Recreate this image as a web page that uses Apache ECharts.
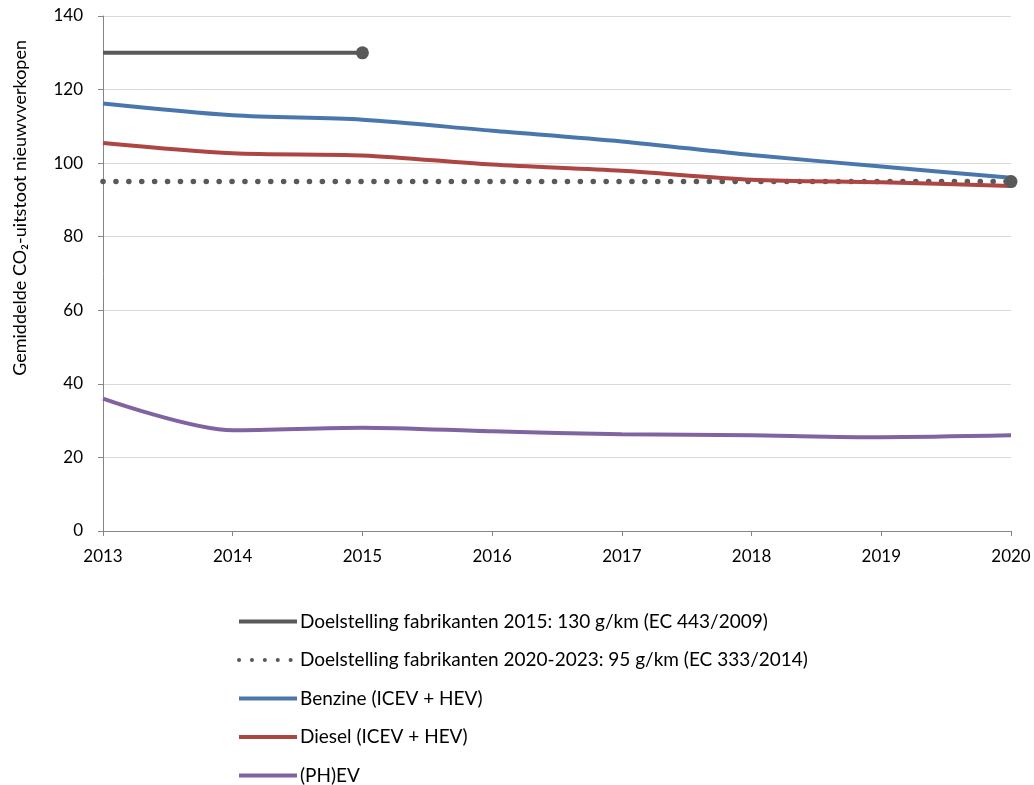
<!DOCTYPE html>
<html><head><meta charset="utf-8">
<script src="https://cdn.jsdelivr.net/npm/echarts@6/dist/echarts.min.js"></script>
<style>html,body{margin:0;padding:0;background:#fff}#c{width:1034px;height:785px}</style>
</head><body><div id="c"></div>
<script>
const years = [2013, 2014, 2015, 2016, 2017, 2018, 2019, 2020];
const benzine = [116.2, 113.0, 111.8, 108.8, 105.9, 102.2, 99.1, 96.0];
const diesel = [105.5, 102.7, 102.1, 99.6, 97.9, 95.5, 94.8, 93.8];
const phev = [36.0, 27.4, 28.1, 27.1, 26.3, 26.0, 25.5, 26.0];
const target2015Years = [2013, 2015];
const target2015 = [130, 130];
const target2020Years = [2013, 2020];
const target2020 = [95, 95];
const yTicks = [0, 20, 40, 60, 80, 100, 120, 140];
const names = [
  'Doelstelling fabrikanten 2015: 130 g/km (EC 443/2009)',
  'Doelstelling fabrikanten 2020-2023: 95 g/km (EC 333/2014)',
  'Benzine (ICEV + HEV)',
  'Diesel (ICEV + HEV)',
  '(PH)EV'
];
const yName = 'Gemiddelde CO₂-uitstoot nieuwvverkopen';

const font = 'Lato, Open Sans, sans-serif';
const fs = 17;
const zip = (xs, ys) => xs.map((x, i) => [x, ys[i]]);
const chart = echarts.init(document.getElementById('c'));
chart.setOption({
  animation: false,
  textStyle: { fontFamily: font },
  grid: { left: 103, right: 23, top: 16, bottom: 254 },
  xAxis: {
    type: 'value', min: 2013, max: 2020, interval: 1,
    axisLine: { lineStyle: { color: '#868686', width: 1 } },
    axisTick: { show: true, length: 5, lineStyle: { color: '#868686' } },
    axisLabel: { color: '#000', fontSize: fs, margin: 17, formatter: v => String(v) },
    splitLine: { show: false }
  },
  yAxis: {
    type: 'value', min: yTicks[0], max: yTicks[yTicks.length - 1], interval: 20,
    axisLine: { show: true, lineStyle: { color: '#868686', width: 1 } },
    axisTick: { show: true, length: 5, lineStyle: { color: '#868686' } },
    axisLabel: { color: '#000', fontSize: fs, margin: 20 },
    splitLine: { show: true, lineStyle: { color: '#D9D9D9', width: 1 } }
  },
  graphic: [{
    type: 'text', left: 11, top: 40, rotation: Math.PI / 2,
    style: { text: yName, fill: '#000', font: '18px ' + font }
  }],
  legend: {
    orient: 'vertical', left: 237, top: 612, height: 180, padding: 0,
    itemWidth: 58, itemHeight: 18, itemGap: 19.5,
    itemStyle: { opacity: 0 },
    lineStyle: { width: 4 },
    textStyle: { color: '#000', fontSize: 19, lineHeight: 18, fontFamily: font, padding: [0, 0, 0, -2] },
    data: names
  },
  series: [
    { name: names[0], type: 'line', data: zip(target2015Years, target2015), symbol: 'none',
      lineStyle: { color: '#595959', width: 4 }, itemStyle: { color: '#595959' } },
    { name: names[1], type: 'line', data: zip(target2020Years, target2020), symbol: 'none',
      lineStyle: { color: '#595959', width: 5.5, type: [0.1, 12.8], cap: 'round' }, itemStyle: { color: '#595959' } },
    { name: names[2], type: 'line', data: zip(years, benzine), symbol: 'none', smooth: 0.3,
      lineStyle: { color: '#4A76AE', width: 4 }, itemStyle: { color: '#4A76AE' } },
    { name: names[3], type: 'line', data: zip(years, diesel), symbol: 'none', smooth: 0.3,
      lineStyle: { color: '#AD4543', width: 4 }, itemStyle: { color: '#AD4543' } },
    { name: names[4], type: 'line', data: zip(years, phev), symbol: 'none', smooth: 0.3,
      lineStyle: { color: '#8064A2', width: 4 }, itemStyle: { color: '#8064A2' } },
    { name: 'markers', type: 'scatter', symbolSize: 13, z: 5,
      data: [[target2015Years[1], target2015[1]], [target2020Years[1], target2020[1]]],
      itemStyle: { color: '#595959', opacity: 1 } }
  ]
});
</script></body></html>
